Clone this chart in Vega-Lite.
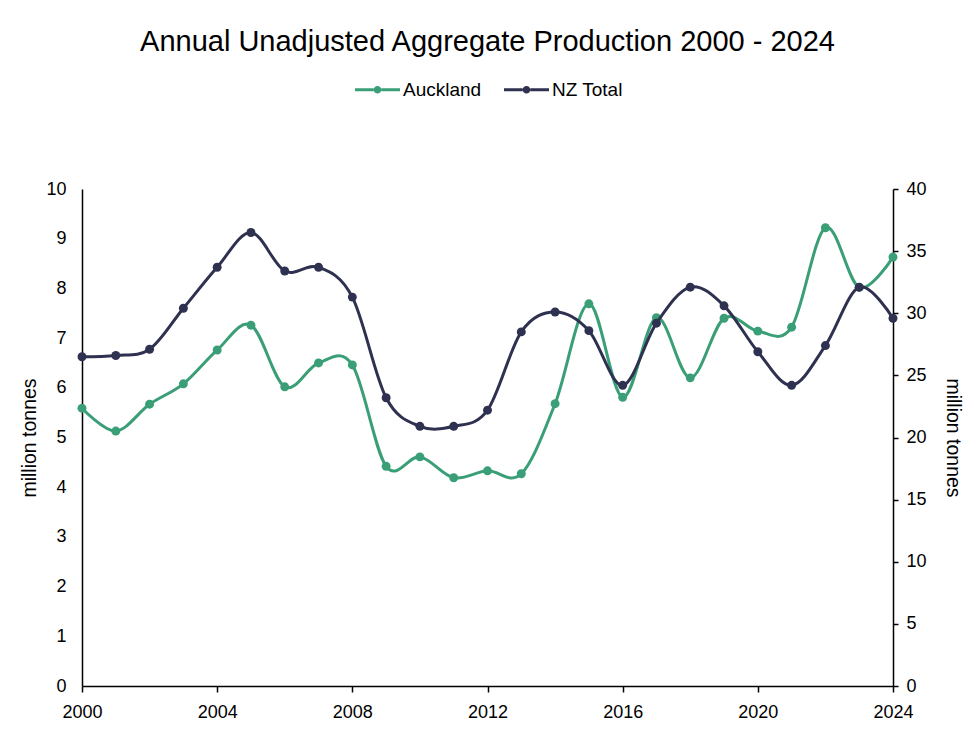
{
  "$schema": "https://vega.github.io/schema/vega-lite/v6.json",
  "width": 811,
  "height": 497,
  "padding": {"left": 19, "top": 28, "right": 9, "bottom": 10},
  "background": "white",
  "title": {
    "text": "Annual Unadjusted Aggregate Production 2000 - 2024",
    "fontSize": 29,
    "font": "Liberation Sans",
    "fontWeight": "normal",
    "color": "#000000",
    "anchor": "middle",
    "offset": 10
  },
  "data": {
    "values": [
      {"year": 2000, "series": "Auckland", "value": 5.59},
      {"year": 2001, "series": "Auckland", "value": 5.13},
      {"year": 2002, "series": "Auckland", "value": 5.67},
      {"year": 2003, "series": "Auckland", "value": 6.08},
      {"year": 2004, "series": "Auckland", "value": 6.76},
      {"year": 2005, "series": "Auckland", "value": 7.26},
      {"year": 2006, "series": "Auckland", "value": 6.02},
      {"year": 2007, "series": "Auckland", "value": 6.5},
      {"year": 2008, "series": "Auckland", "value": 6.46},
      {"year": 2009, "series": "Auckland", "value": 4.42},
      {"year": 2010, "series": "Auckland", "value": 4.61},
      {"year": 2011, "series": "Auckland", "value": 4.19},
      {"year": 2012, "series": "Auckland", "value": 4.33},
      {"year": 2013, "series": "Auckland", "value": 4.27},
      {"year": 2014, "series": "Auckland", "value": 5.68},
      {"year": 2015, "series": "Auckland", "value": 7.69},
      {"year": 2016, "series": "Auckland", "value": 5.81},
      {"year": 2017, "series": "Auckland", "value": 7.41},
      {"year": 2018, "series": "Auckland", "value": 6.2},
      {"year": 2019, "series": "Auckland", "value": 7.4},
      {"year": 2020, "series": "Auckland", "value": 7.14},
      {"year": 2021, "series": "Auckland", "value": 7.22},
      {"year": 2022, "series": "Auckland", "value": 9.22},
      {"year": 2023, "series": "Auckland", "value": 8.02},
      {"year": 2024, "series": "Auckland", "value": 8.63},
      {"year": 2000, "series": "NZ Total", "value": 26.5},
      {"year": 2001, "series": "NZ Total", "value": 26.6},
      {"year": 2002, "series": "NZ Total", "value": 27.1},
      {"year": 2003, "series": "NZ Total", "value": 30.4},
      {"year": 2004, "series": "NZ Total", "value": 33.7},
      {"year": 2005, "series": "NZ Total", "value": 36.5},
      {"year": 2006, "series": "NZ Total", "value": 33.4},
      {"year": 2007, "series": "NZ Total", "value": 33.7},
      {"year": 2008, "series": "NZ Total", "value": 31.3},
      {"year": 2009, "series": "NZ Total", "value": 23.2},
      {"year": 2010, "series": "NZ Total", "value": 20.9},
      {"year": 2011, "series": "NZ Total", "value": 20.9},
      {"year": 2012, "series": "NZ Total", "value": 22.2},
      {"year": 2013, "series": "NZ Total", "value": 28.5},
      {"year": 2014, "series": "NZ Total", "value": 30.1},
      {"year": 2015, "series": "NZ Total", "value": 28.6},
      {"year": 2016, "series": "NZ Total", "value": 24.2},
      {"year": 2017, "series": "NZ Total", "value": 29.2},
      {"year": 2018, "series": "NZ Total", "value": 32.1},
      {"year": 2019, "series": "NZ Total", "value": 30.6},
      {"year": 2020, "series": "NZ Total", "value": 26.9},
      {"year": 2021, "series": "NZ Total", "value": 24.2},
      {"year": 2022, "series": "NZ Total", "value": 27.4},
      {"year": 2023, "series": "NZ Total", "value": 32.1},
      {"year": 2024, "series": "NZ Total", "value": 29.6}
    ]
  },
  "encoding": {
    "x": {
      "field": "year",
      "type": "quantitative",
      "scale": {"domain": [2000, 2024], "nice": false, "zero": false},
      "axis": {
        "values": [2000, 2004, 2008, 2012, 2016, 2020, 2024],
        "format": "d",
        "title": null,
        "grid": false,
        "labelFlush": false,
        "labelOverlap": false,
        "domainColor": "#000000",
        "domainWidth": 1.5,
        "tickColor": "#000000",
        "tickWidth": 1.5,
        "tickSize": 6,
        "labelFontSize": 18,
        "labelColor": "#000000",
        "labelFont": "Liberation Sans",
        "labelPadding": 11
      }
    },
    "color": {
      "field": "series",
      "type": "nominal",
      "scale": {"domain": ["Auckland", "NZ Total"], "range": ["#3a9e77", "#2f3150"]},
      "legend": {
        "title": null,
        "orient": "none",
        "legendX": 273,
        "legendY": -122,
        "direction": "horizontal",
        "labelFontSize": 19,
        "labelFont": "Liberation Sans",
        "labelColor": "#000000",
        "symbolType": "M-1,-0.067L-0.167,-0.067L-0.167,0.067L-1,0.067Z M0.167,-0.067L1,-0.067L1,0.067L0.167,0.067Z M0.167,0A0.167,0.167,0,1,1,-0.167,0A0.167,0.167,0,1,1,0.167,0Z",
        "symbolSize": 2025,
        "symbolStrokeWidth": 0,
        "labelOffset": 3,
        "columnPadding": 22,
        "encode": {
          "symbols": {
            "update": {
              "fill": {"scale": "color", "field": "value"},
              "stroke": {"value": "transparent"},
              "opacity": {"value": 1}
            }
          }
        }
      }
    }
  },
  "layer": [
    {
      "transform": [{"filter": "datum.series === 'Auckland'"}],
      "mark": {
        "type": "line",
        "interpolate": "cardinal",
        "strokeWidth": 3,
        "point": {"filled": true, "size": 80, "opacity": 1}
      },
      "encoding": {
        "y": {
          "field": "value",
          "type": "quantitative",
          "scale": {"domain": [0, 10], "nice": false},
          "axis": {
            "orient": "left",
            "values": [0, 1, 2, 3, 4, 5, 6, 7, 8, 9, 10],
            "title": "million tonnes",
            "titleFontSize": 19.5,
            "titleFont": "Liberation Sans",
            "titleFontWeight": "normal",
            "titleColor": "#000000",
            "titlePadding": 6,
            "grid": false,
            "ticks": false,
            "domainColor": "#000000",
            "domainWidth": 1.5,
            "labelFontSize": 18,
            "labelFont": "Liberation Sans",
            "labelColor": "#000000",
            "labelPadding": 16
          }
        }
      }
    },
    {
      "transform": [{"filter": "datum.series === 'NZ Total'"}],
      "mark": {
        "type": "line",
        "interpolate": "cardinal",
        "strokeWidth": 3,
        "point": {"filled": true, "size": 80, "opacity": 1}
      },
      "encoding": {
        "y": {
          "field": "value",
          "type": "quantitative",
          "scale": {"domain": [0, 40], "nice": false},
          "axis": {
            "orient": "right",
            "values": [0, 5, 10, 15, 20, 25, 30, 35, 40],
            "title": "million tonnes",
            "titleFontSize": 19.5,
            "titleFont": "Liberation Sans",
            "titleFontWeight": "normal",
            "titleColor": "#000000",
            "titlePadding": 16,
            "grid": false,
            "domainColor": "#000000",
            "domainWidth": 1.5,
            "tickColor": "#000000",
            "tickWidth": 1.5,
            "tickSize": 5,
            "labelFontSize": 18,
            "labelFont": "Liberation Sans",
            "labelColor": "#000000",
            "labelPadding": 8
          }
        }
      }
    }
  ],
  "resolve": {"scale": {"y": "independent"}},
  "config": {"view": {"stroke": null}}
}
